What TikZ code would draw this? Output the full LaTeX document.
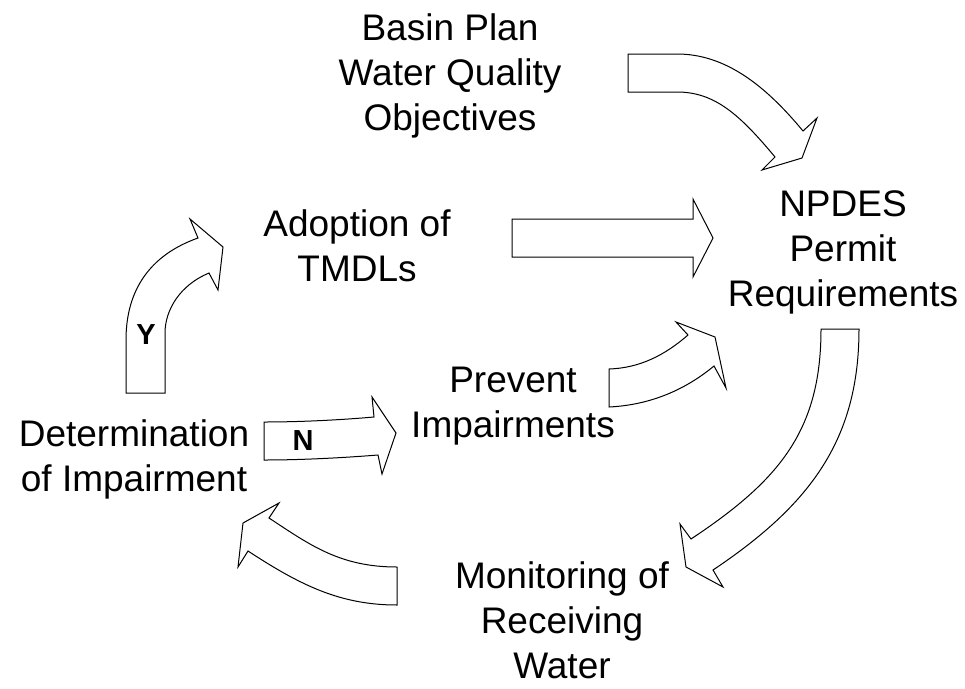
\documentclass[tikz,border=0pt]{standalone}
\usepackage{fontspec}
\setmainfont{Liberation Sans}
\tikzset{
  {step text/.style} ={align=center, inner sep=0,
                font=\fontsize{37}{45}\selectfont},
  {yn text/.style} ={inner sep=0, font=\fontsize{29}{32}\selectfont\bfseries},
  {block arrow/.style} ={draw=black, line width=1pt, line join=miter, fill=white},
}
\begin{document}
\begin{tikzpicture}[x=1pt,y=-1pt]
\useasboundingbox (0,0) rectangle (965,688);
\node[step text] (basin) at (450,76) {Basin Plan\\Water Quality\\Objectives};
\node[step text] (npdes) at (843,252) {NPDES\\Permit\\Requirements};
\node[step text] (adopt) at (357,246) {Adoption of\\TMDLs};
\node[step text] (prevent) at (513,406) {Prevent\\Impairments};
\node[step text] (determ) at (134,459) {Determination\\of Impairment};
\node[step text] (monitor) at (562,620) {Monitoring of\\Receiving\\Water};
% basin plan to permit
\draw[block arrow] (628,54) -- (677,54) .. controls (725,54) and (765,85) .. (803,131)
  -- (817,118) -- (802,158) -- (762,170) -- (775,157)
  .. controls (740,115) and (715,92) .. (677,92) -- (628,92) -- cycle;
% TMDLs to permit
\draw[block arrow] (512,219) -- (693,219) -- (693,199) -- (713,238)
  -- (693,277) -- (693,257) -- (512,257) -- cycle;
% prevent to permit
\draw[block arrow] (609,369) .. controls (640,368) and (665,355) .. (688,335)
  -- (676,322) -- (715,337) -- (726,388) -- (714,366)
  .. controls (685,390) and (650,405) .. (609,407) -- cycle;
% permit to monitoring
\draw[block arrow] (821,329) .. controls (821,430) and (780,480) .. (691,539)
  -- (680,524) -- (686,567) -- (723,587) -- (713,570)
  .. controls (810,505) and (859,440) .. (859,329) -- cycle;
% monitoring to determination
\draw[block arrow] (397,567) .. controls (340,567) and (310,545) .. (269,518)
  -- (279,503) -- (243,523) -- (238,567) -- (248,551)
  .. controls (300,585) and (340,605) .. (397,605) -- cycle;
% yes: to TMDLs
\draw[block arrow] (126,393) -- (126,340) .. controls (126,290) and (150,255) .. (198,238)
  -- (190,219) -- (223,247) -- (218,290) -- (209,273)
  .. controls (180,285) and (165,310) .. (165,333) -- (165,393) -- cycle;
\node[yn text] (yes) at (146,335) {Y};
% no: to prevent
\draw[block arrow] (264,422) .. controls (300,422) and (340,420) .. (374,417)
  -- (372,397) -- (396,433) -- (382,474) -- (378,455)
  .. controls (340,458) and (300,460) .. (264,460) -- cycle;
\node[yn text] (no) at (303,441) {N};
\end{tikzpicture}
\end{document}
